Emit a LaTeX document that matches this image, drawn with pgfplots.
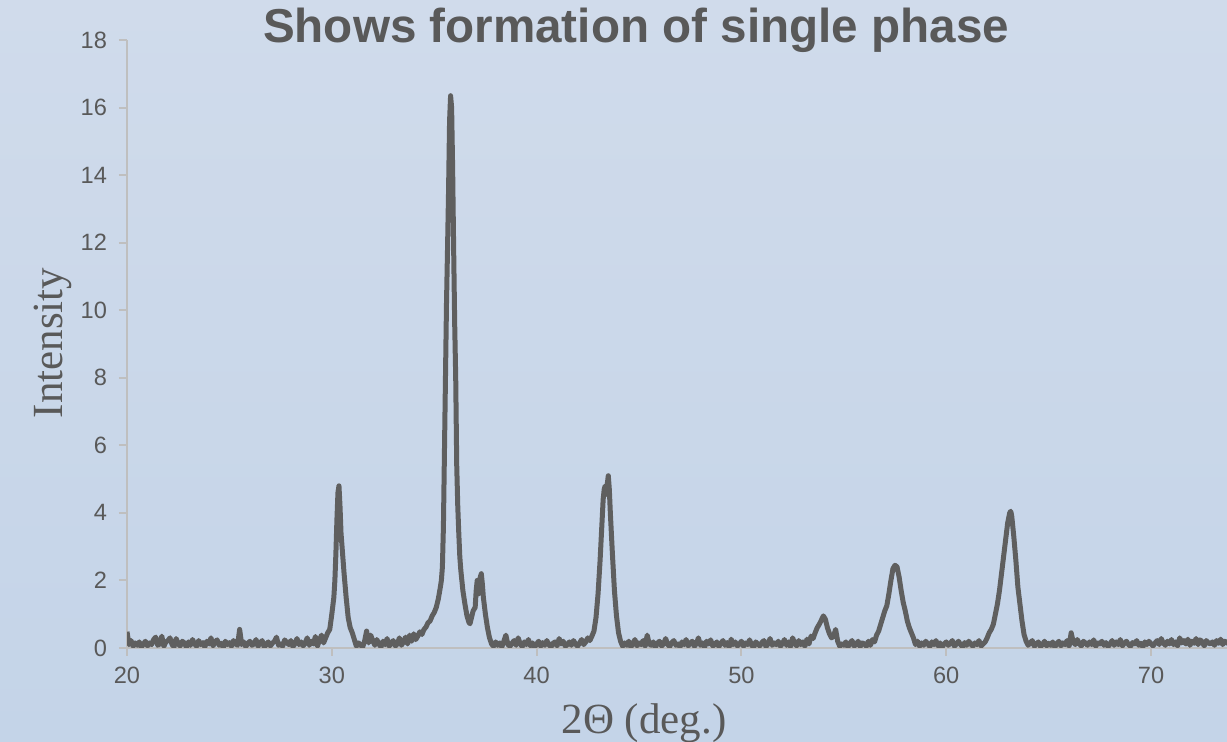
\documentclass[border=0pt]{standalone}
\usepackage{fontspec}
\setmainfont{Liberation Serif}
\newfontfamily\arial{Liberation Sans}
\usepackage{pgfplots}
\pgfplotsset{compat=1.18}
\definecolor{axisgray}{HTML}{BFBFBF}
\definecolor{labgray}{HTML}{595959}
\definecolor{linegray}{HTML}{5F5F5F}
\definecolor{bgtop}{RGB}{208,219,235}
\definecolor{bgbot}{RGB}{196,212,232}
\begin{document}
\begin{tikzpicture}
\shade[top color=bgtop, bottom color=bgbot] (-63.5pt,-47pt) rectangle (550pt,324pt);
\useasboundingbox (-63.5pt,-47pt) rectangle (550pt,324pt);
\begin{axis}[
  scale only axis, width=550pt, height=304pt,
  xmin=20, xmax=73.71, ymin=0, ymax=18,
  axis lines=left, axis line style={-, axisgray, line width=1pt},
  xtick={20,30,40,50,60,70}, ytick={0,2,...,18},
  tick align=outside, major tick length=4pt,
  tick style={axisgray, line width=1pt},
  /pgf/number format/assume math mode=true,
  ticklabel style={font=\arial\fontsize{11.8}{13}\selectfont, text=labgray},
  xticklabel style={yshift=-2pt},
  yticklabel style={xshift=-2.5pt},
  clip=true,
]
\addplot[linegray, line width=2.5pt, line join=round, mark=none] coordinates {
(20.0,0.48)(20.1,0.10)(20.2,0.22)(20.3,0.05)(20.4,0.15)(20.5,0.08)(20.6,0.18)(20.7,0.02)(20.8,0.12)(20.9,0.20)
(21.0,0.06)(21.1,0.15)(21.2,0.10)(21.3,0.25)(21.4,0.32)(21.5,0.08)(21.6,0.12)(21.7,0.35)(21.8,0.05)(21.9,0.18)
(22.0,0.22)(22.1,0.30)(22.2,0.10)(22.3,0.04)(22.4,0.28)(22.5,0.12)(22.6,0.06)(22.7,0.20)(22.8,0.15)(22.9,0.03)
(23.0,0.18)(23.1,0.08)(23.2,0.25)(23.3,0.12)(23.4,0.05)(23.5,0.22)(23.6,0.10)(23.7,0.16)(23.8,0.03)(23.9,0.20)
(24.0,0.12)(24.1,0.30)(24.2,0.06)(24.3,0.18)(24.4,0.24)(24.5,0.08)(24.6,0.14)(24.7,0.02)(24.8,0.20)(24.9,0.10)
(25.0,0.16)(25.1,0.05)(25.2,0.22)(25.3,0.12)(25.4,0.08)(25.5,0.55)(25.6,0.10)(25.7,0.18)(25.8,0.04)(25.9,0.14)
(26.0,0.20)(26.1,0.08)(26.2,0.12)(26.3,0.25)(26.4,0.05)(26.5,0.15)(26.6,0.22)(26.7,0.03)(26.8,0.10)(26.9,0.18)
(27.0,0.06)(27.1,0.14)(27.2,0.20)(27.3,0.32)(27.4,0.08)(27.5,0.12)(27.6,0.05)(27.7,0.24)(27.8,0.16)(27.9,0.10)
(28.0,0.22)(28.1,0.04)(28.2,0.12)(28.3,0.28)(28.4,0.10)(28.5,0.18)(28.6,0.06)(28.7,0.15)(28.8,0.30)(28.9,0.08)
(29.0,0.20)(29.1,0.12)(29.2,0.34)(29.3,0.05)(29.4,0.25)(29.5,0.38)(29.6,0.15)(29.7,0.30)(29.8,0.45)
(29.9,0.55)(30.0,1.0)(30.1,1.5)(30.15,2.0)(30.2,2.8)(30.25,3.8)(30.3,4.6)(30.35,4.8)(30.4,4.2)(30.45,3.4)
(30.5,3.0)(30.55,2.6)(30.6,2.2)(30.7,1.5)(30.8,0.9)(30.9,0.6)(31.0,0.45)(31.1,0.25)(31.2,0.05)(31.3,0.15)
(31.4,0.10)(31.5,0.02)(31.6,0.20)(31.7,0.50)(31.8,0.15)(31.9,0.38)(32.0,0.22)(32.1,0.08)(32.2,0.25)(32.3,0.12)
(32.4,0.03)(32.5,0.20)(32.6,0.10)(32.7,0.28)(32.8,0.05)(32.9,0.15)(33.0,0.22)(33.1,0.06)(33.2,0.12)(33.3,0.30)
(33.4,0.08)(33.5,0.18)(33.6,0.32)(33.7,0.12)(33.8,0.38)(33.9,0.20)(34.0,0.42)(34.1,0.25)(34.2,0.35)(34.3,0.48)
(34.4,0.40)(34.5,0.55)(34.6,0.62)(34.7,0.75)(34.8,0.80)(34.9,0.95)(35.0,1.05)(35.1,1.2)(35.2,1.45)(35.3,1.8)
(35.35,2.0)(35.4,2.4)(35.45,3.6)(35.5,5.8)(35.55,8.0)(35.6,10.2)(35.65,11.8)(35.7,13.5)(35.75,15.6)(35.8,16.35)
(35.85,16.0)(35.9,14.2)(35.95,11.8)(36.0,9.6)(36.05,8.0)(36.1,5.4)(36.15,4.2)(36.2,3.4)(36.25,2.7)(36.3,2.3)
(36.4,1.7)(36.5,1.3)(36.6,0.95)(36.7,0.75)(36.75,0.72)(36.8,0.85)(36.9,1.1)(37.0,1.2)(37.05,1.7)(37.1,2.0)
(37.15,1.6)(37.2,1.75)(37.25,2.1)(37.3,2.2)(37.35,1.9)(37.4,1.5)(37.5,1.0)(37.6,0.6)(37.7,0.3)(37.8,0.12)
(37.9,0.05)(38.0,0.18)(38.1,0.08)(38.2,0.15)(38.3,0.03)(38.4,0.20)(38.5,0.38)(38.6,0.10)(38.7,0.05)(38.8,0.14)(38.9,0.22)
(39.0,0.08)(39.1,0.30)(39.2,0.12)(39.3,0.04)(39.4,0.18)(39.5,0.10)(39.6,0.25)(39.7,0.06)(39.8,0.15)(39.9,0.02)
(40.0,0.12)(40.1,0.20)(40.2,0.05)(40.3,0.16)(40.4,0.08)(40.5,0.22)(40.6,0.10)(40.7,0.03)(40.8,0.14)(40.9,0.18)
(41.0,0.06)(41.1,0.28)(41.2,0.12)(41.3,0.20)(41.4,0.05)(41.5,0.10)(41.6,0.18)(41.7,0.08)(41.8,0.22)(41.9,0.12)
(42.0,0.05)(42.1,0.15)(42.2,0.25)(42.3,0.10)(42.4,0.18)(42.5,0.30)(42.6,0.22)(42.7,0.35)(42.8,0.5)(42.9,0.9)
(43.0,1.6)(43.1,2.6)(43.2,3.8)(43.25,4.4)(43.3,4.7)(43.35,4.8)(43.4,4.55)(43.45,4.85)(43.5,5.1)(43.55,4.7)
(43.6,4.0)(43.7,2.8)(43.8,1.7)(43.9,0.95)(44.0,0.45)(44.1,0.2)(44.2,0.05)(44.3,0.15)(44.4,0.08)(44.5,0.20)
(44.6,0.03)(44.7,0.12)(44.8,0.25)(44.9,0.06)
(45.0,0.15)(45.1,0.10)(45.2,0.22)(45.3,0.05)(45.4,0.38)(45.5,0.12)(45.6,0.08)(45.7,0.18)(45.8,0.02)(45.9,0.14)
(46.0,0.20)(46.1,0.06)(46.2,0.12)(46.3,0.28)(46.4,0.10)(46.5,0.04)(46.6,0.16)(46.7,0.22)(46.8,0.08)(46.9,0.12)
(47.0,0.03)(47.1,0.18)(47.2,0.10)(47.3,0.25)(47.4,0.06)(47.5,0.14)(47.6,0.20)(47.7,0.05)(47.8,0.12)(47.9,0.30)
(48.0,0.08)(48.1,0.15)(48.2,0.02)(48.3,0.20)(48.4,0.12)(48.5,0.24)(48.6,0.06)(48.7,0.10)(48.8,0.18)(48.9,0.04)
(49.0,0.14)(49.1,0.22)(49.2,0.08)(49.3,0.16)(49.4,0.03)(49.5,0.26)(49.6,0.10)(49.7,0.18)(49.8,0.06)(49.9,0.12)
(50.0,0.20)(50.1,0.05)(50.2,0.15)(50.3,0.10)(50.4,0.24)(50.5,0.08)(50.6,0.02)(50.7,0.18)(50.8,0.12)(50.9,0.06)
(51.0,0.16)(51.1,0.22)(51.2,0.04)(51.3,0.12)(51.4,0.28)(51.5,0.08)(51.6,0.15)(51.7,0.10)(51.8,0.20)(51.9,0.05)
(52.0,0.12)(52.1,0.25)(52.2,0.08)(52.3,0.18)(52.4,0.04)(52.5,0.30)(52.6,0.14)(52.7,0.06)(52.8,0.22)(52.9,0.10)
(53.0,0.18)(53.1,0.05)(53.2,0.26)(53.3,0.12)(53.4,0.35)(53.5,0.28)(53.6,0.45)(53.7,0.60)(53.8,0.70)(53.9,0.82)
(54.0,0.95)(54.1,0.85)(54.2,0.60)(54.3,0.42)(54.4,0.30)(54.5,0.35)(54.6,0.55)(54.7,0.20)(54.8,0.05)(54.9,0.12)
(55.0,0.08)(55.1,0.18)(55.2,0.03)(55.3,0.14)(55.4,0.22)(55.5,0.06)(55.6,0.10)(55.7,0.20)(55.8,0.04)(55.9,0.15)
(56.0,0.12)(56.1,0.05)(56.2,0.20)(56.3,0.08)(56.4,0.25)(56.5,0.18)(56.6,0.38)(56.7,0.50)(56.8,0.70)(56.9,0.90)
(57.0,1.10)(57.1,1.25)(57.2,1.60)(57.3,2.00)(57.4,2.35)(57.5,2.45)(57.6,2.40)(57.7,2.10)(57.8,1.70)(57.9,1.35)
(58.0,1.10)(58.1,0.80)(58.2,0.60)(58.3,0.45)(58.4,0.30)(58.5,0.10)(58.6,0.20)(58.7,0.05)(58.8,0.15)(58.9,0.08)
(59.0,0.20)(59.1,0.12)(59.2,0.04)(59.3,0.18)(59.4,0.10)(59.5,0.22)(59.6,0.06)(59.7,0.15)(59.8,0.03)(59.9,0.12)
(60.0,0.18)(60.1,0.08)(60.2,0.14)(60.3,0.22)(60.4,0.05)(60.5,0.12)(60.6,0.20)(60.7,0.10)(60.8,0.03)(60.9,0.16)
(61.0,0.08)(61.1,0.20)(61.2,0.12)(61.3,0.05)(61.4,0.15)(61.5,0.10)(61.6,0.22)(61.7,0.06)(61.8,0.12)(61.9,0.18)
(62.0,0.30)(62.1,0.45)(62.2,0.55)(62.3,0.70)(62.4,1.00)(62.5,1.30)(62.6,1.70)(62.7,2.20)(62.8,2.70)(62.9,3.20)
(63.0,3.70)(63.1,4.00)(63.15,4.05)(63.2,3.90)(63.3,3.30)(63.4,2.60)(63.5,1.80)(63.6,1.30)(63.7,0.80)(63.8,0.40)(63.9,0.20)
(64.0,0.08)(64.1,0.15)(64.2,0.22)(64.3,0.05)(64.4,0.12)(64.5,0.18)(64.6,0.04)(64.7,0.10)(64.8,0.20)(64.9,0.06)
(65.0,0.14)(65.1,0.08)(65.2,0.18)(65.3,0.03)(65.4,0.12)(65.5,0.20)(65.6,0.06)(65.7,0.15)(65.8,0.10)(65.9,0.22)
(66.0,0.05)(66.1,0.45)(66.2,0.18)(66.3,0.10)(66.4,0.25)(66.5,0.12)(66.6,0.06)(66.7,0.20)(66.8,0.14)(66.9,0.08)
(67.0,0.18)(67.1,0.10)(67.2,0.24)(67.3,0.05)(67.4,0.15)(67.5,0.12)(67.6,0.20)(67.7,0.08)(67.8,0.16)(67.9,0.04)
(68.0,0.12)(68.1,0.22)(68.2,0.08)(68.3,0.18)(68.4,0.10)(68.5,0.25)(68.6,0.06)(68.7,0.14)(68.8,0.20)(68.9,0.10)
(69.0,0.05)(69.1,0.16)(69.2,0.12)(69.3,0.22)(69.4,0.08)(69.5,0.14)(69.6,0.03)(69.7,0.18)(69.8,0.10)(69.9,0.20)
(70.0,0.12)(70.1,0.06)(70.2,0.15)(70.3,0.22)(70.4,0.10)(70.5,0.28)(70.6,0.14)(70.7,0.08)(70.8,0.20)(70.9,0.12)
(71.0,0.25)(71.1,0.10)(71.2,0.18)(71.3,0.06)(71.4,0.30)(71.5,0.15)(71.6,0.22)(71.7,0.12)(71.8,0.26)(71.9,0.08)
(72.0,0.20)(72.1,0.14)(72.2,0.28)(72.3,0.10)(72.4,0.24)(72.5,0.18)(72.6,0.06)(72.7,0.22)(72.8,0.15)(72.9,0.12)
(73.0,0.18)(73.1,0.08)(73.2,0.22)(73.3,0.14)(73.4,0.26)(73.5,0.10)(73.6,0.20)(73.7,0.16)(73.8,0.12)(73.9,0.20)(74.0,0.10)
};
\end{axis}
\node[anchor=base, text=labgray, font=\arial\bfseries\fontsize{23.8}{28}\selectfont] at (254.5pt,302.5pt) {Shows formation of single phase};
\node[anchor=base, rotate=90, text=labgray, font=\fontsize{21.5}{25}\selectfont] at (-32pt,152.5pt) {Intensity};
\node[anchor=base, text=labgray, font=\fontsize{21.5}{25}\selectfont] at (258.5pt,-42.8pt) {2Θ (deg.)};
\end{tikzpicture}
\end{document}
